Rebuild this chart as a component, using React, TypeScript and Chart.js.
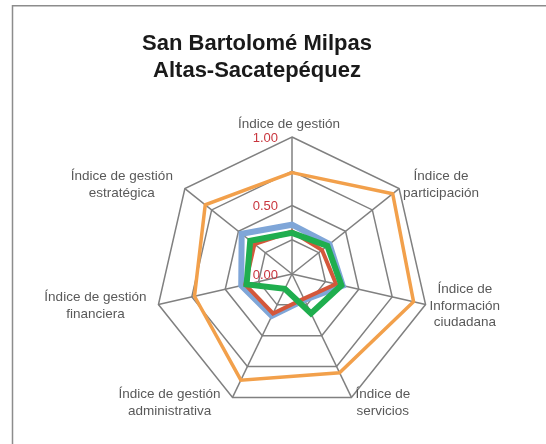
import React, { useEffect, useRef } from 'react';
import { Chart, registerables } from 'chart.js';

Chart.register(...registerables);

const titleLines = ['San Bartolomé Milpas', 'Altas-Sacatepéquez'];

const categories: (string | string[])[] = [
  'Índice de gestión',
  ['Índice de', 'participación'],
  ['Índice de', 'Información', 'ciudadana'],
  ['Índice de', 'servicios'],
  ['Índice de gestión', 'administrativa'],
  ['Índice de gestión', 'financiera'],
  ['Índice de gestión', 'estratégica'],
];

const seriesNames = ['Serie 1', 'Serie 2', 'Serie 3', 'Serie 4'];
const orangeValues = [0.74, 0.94, 0.91, 0.8, 0.86, 0.73, 0.81];
const blueValues = [0.36, 0.35, 0.38, 0.21, 0.34, 0.38, 0.47];
const redValues = [0.31, 0.28, 0.33, 0.2, 0.32, 0.35, 0.35];
const greenValues = [0.3, 0.33, 0.37, 0.32, 0.12, 0.34, 0.39];

const tickValues = [0, 0.5, 1];
const tickLabels = ['0.00', '0.50', '1.00'];

const FONT = '"Liberation Sans", Arial, sans-serif';

const decorPlugin = {
  id: 'decor',
  beforeDraw(chart: any) {
    const ctx = chart.ctx;
    ctx.save();
    ctx.fillStyle = '#ffffff';
    ctx.fillRect(0, 0, chart.width, chart.height);
    ctx.strokeStyle = '#8c8c8c';
    ctx.lineWidth = 1.5;
    ctx.beginPath();
    ctx.moveTo(12.5, chart.height);
    ctx.lineTo(12.5, 5.8);
    ctx.lineTo(chart.width, 5.8);
    ctx.stroke();
    ctx.restore();
  },
  afterDraw(chart: any) {
    const ctx = chart.ctx;
    const r = chart.scales.r;
    ctx.save();
    // title
    ctx.fillStyle = '#1a1a1a';
    ctx.font = `bold 22px ${FONT}`;
    ctx.textAlign = 'center';
    ctx.textBaseline = 'alphabetic';
    titleLines.forEach((t, k) => ctx.fillText(t, 257, 50 + k * 26.5));

    // point labels
    ctx.font = `13.5px ${FONT}`;
    ctx.fillStyle = '#595959';
    ctx.textBaseline = 'middle';
    const lh = 16.5;
    categories.forEach((lab, i) => {
      const lines = Array.isArray(lab) ? lab : [lab];
      const a = r.getIndexAngle(i);
      const s = Math.sin(a);
      const c = Math.cos(a);
      const end = r.getPointPosition(i, r.drawingArea);
      const w = Math.max(...lines.map((l) => ctx.measureText(l).width));
      const blockH = lines.length * lh;
      let cx: number;
      let top: number;
      if (s > 0.2) {
        cx = end.x + 4 + w / 2;
        top = end.y - c * 6 - blockH / 2;
      } else if (s < -0.2) {
        cx = end.x - 12 - w / 2;
        top = end.y - c * 6 - blockH / 2;
      } else {
        cx = end.x - 3;
        top = end.y - 4.5 - blockH;
      }
      ctx.textAlign = 'center';
      lines.forEach((l, k) => ctx.fillText(l, cx, top + lh * (k + 0.5)));
    });

    // tick labels
    ctx.font = `13px ${FONT}`;
    ctx.fillStyle = '#c9363e';
    ctx.textAlign = 'right';
    ctx.textBaseline = 'middle';
    tickValues.forEach((v, k) => {
      const d = r.getDistanceFromCenterForValue(v);
      ctx.fillText(tickLabels[k], r.xCenter - 14, r.yCenter - d + 1);
    });
    ctx.restore();
  },
};

export default function App() {
  const ref = useRef<HTMLCanvasElement | null>(null);
  useEffect(() => {
    const canvas = ref.current;
    if (!canvas) return;
    const mk = (label: string, data: number[], color: string, width: number, order: number) => ({
      label,
      data,
      borderColor: color,
      backgroundColor: color,
      borderWidth: width,
      pointRadius: 0,
      pointHoverRadius: 0,
      fill: false,
      tension: 0,
      order,
    });
    const chart = new Chart(canvas, {
      type: 'radar',
      data: {
        labels: categories as any,
        datasets: [
          mk(seriesNames[0], orangeValues, '#f2a04b', 3.5, 3),
          mk(seriesNames[1], blueValues, '#7fa6d8', 6, 2),
          mk(seriesNames[2], redValues, '#d4573b', 4, 1),
          mk(seriesNames[3], greenValues, '#1fae4e', 6, 0),
        ],
      },
      options: {
        responsive: false,
        animation: false,
        devicePixelRatio: 1,
        layout: { padding: { left: 155, right: 117, top: 137, bottom: 33 } },
        plugins: {
          legend: { display: false },
          title: { display: false },
          tooltip: { enabled: false },
        },
        scales: {
          r: {
            min: 0,
            max: 1,
            ticks: { stepSize: 0.25, display: false },
            grid: { color: '#808080', lineWidth: 1.5 },
            angleLines: { color: '#808080', lineWidth: 1.5 },
            pointLabels: { display: false },
          },
        },
      },
      plugins: [decorPlugin],
    });
    return () => chart.destroy();
  }, []);
  return (
    <div style={{ position: 'fixed', left: 0, top: 0, width: 546, height: 444, background: '#fff' }}>
      <canvas ref={ref} width={546} height={444} style={{ display: 'block' }} />
    </div>
  );
}
